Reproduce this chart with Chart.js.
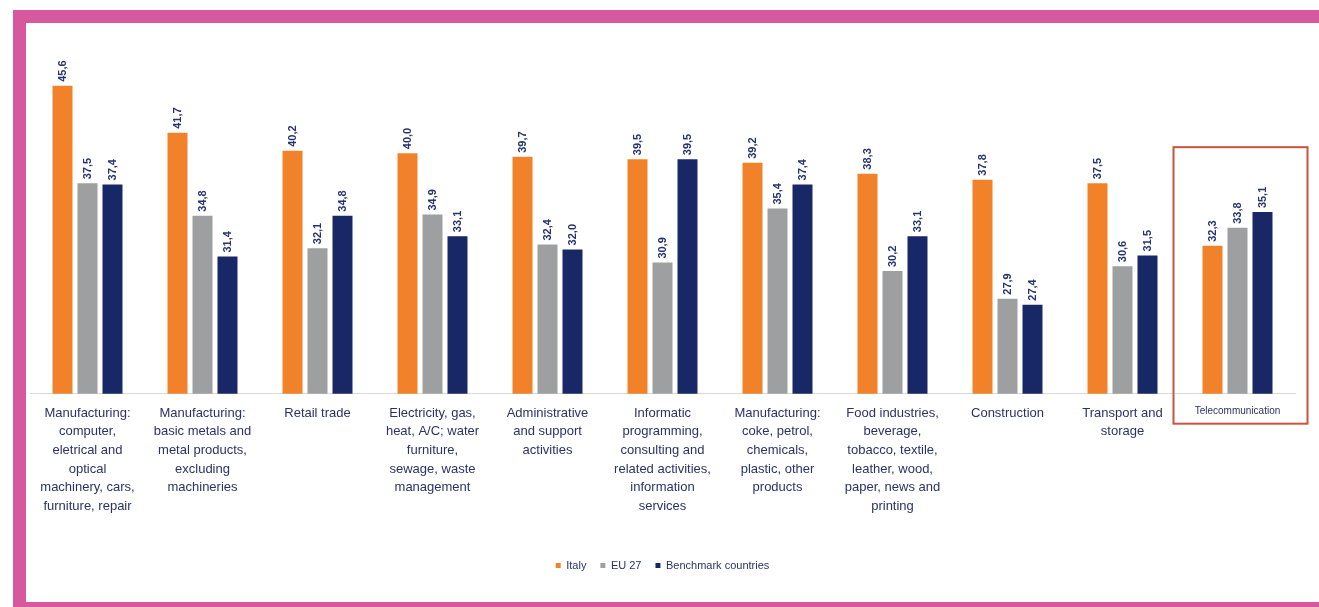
<!DOCTYPE html>
<html lang="en">
<head>
  <meta charset="UTF-8" />
  <title>Italy vs EU 27 vs Benchmark countries by sector</title>
  <script src="https://cdn.jsdelivr.net/npm/chart.js"></script>
  <style>
    html, body { margin: 0; padding: 0; background: #fff; overflow: hidden; }
    body { width: 1319px; height: 607px; position: relative; font-family: "Liberation Sans", Arial, sans-serif; }
    .frame {
      position: absolute; left: 13px; top: 10px; width: 1340px; height: 579px;
      border-top: 13px solid #d6589e; border-left: 13px solid #d6589e; border-bottom: 13px solid #d6589e;
      background: #fff;
    }
    #wrap { position: absolute; left: 26px; top: 23px; width: 1293px; height: 579px; }
  </style>
</head>
<body>
  <div class="frame"></div>
  <div id="wrap"><canvas id="sectorChart"></canvas></div>

  <script>
    // categories (multi-line labels)
    const categories = [
      ['Manufacturing:', 'computer,', 'eletrical and', 'optical', 'machinery, cars,', 'furniture, repair'],
      ['Manufacturing:', 'basic metals and', 'metal products,', 'excluding', 'machineries'],
      ['Retail trade'],
      ['Electricity, gas,', 'heat, A/C; water', 'furniture,', 'sewage, waste', 'management'],
      ['Administrative', 'and support', 'activities'],
      ['Informatic', 'programming,', 'consulting and', 'related activities,', 'information', 'services'],
      ['Manufacturing:', 'coke, petrol,', 'chemicals,', 'plastic, other', 'products'],
      ['Food industries,', 'beverage,', 'tobacco, textile,', 'leather, wood,', 'paper, news and', 'printing'],
      ['Construction'],
      ['Transport and', 'storage'],
      ['Telecommunication']
    ];

    const italy     = [45.6, 41.7, 40.2, 40.0, 39.7, 39.5, 39.2, 38.3, 37.8, 37.5, 32.3];
    const eu27      = [37.5, 34.8, 32.1, 34.9, 32.4, 30.9, 35.4, 30.2, 27.9, 30.6, 33.8];
    const benchmark = [37.4, 31.4, 34.8, 33.1, 32.0, 39.5, 37.4, 33.1, 27.4, 31.5, 35.1];

    const seriesNames = ['Italy', 'EU 27', 'Benchmark countries'];
    const highlightIndex = 10; // Telecommunication

    const TEXT = '#2a3268';
    const FONT = '"Liberation Sans", Arial, sans-serif';

    // rotated value labels above each bar
    const valueLabels = {
      id: 'valueLabels',
      afterDatasetsDraw(chart) {
        const c = chart.ctx;
        chart.data.datasets.forEach((ds, i) => {
          const meta = chart.getDatasetMeta(i);
          meta.data.forEach((bar, j) => {
            c.save();
            c.translate(bar.x, bar.y - 4);
            c.rotate(-Math.PI / 2);
            c.font = 'bold 11px ' + FONT;
            c.fillStyle = '#26336f';
            c.textAlign = 'left';
            c.textBaseline = 'middle';
            c.fillText(ds.data[j].toFixed(1).replace('.', ','), 0, 0);
            c.restore();
          });
        });
      }
    };

    // red box round the highlighted category
    const highlightBox = {
      id: 'highlightBox',
      afterDraw(chart) {
        const x = chart.scales.x, y = chart.scales.y;
        const cx = x.getPixelForValue(highlightIndex);
        const top = y.getPixelForValue(40.5);
        const bottom = y.getPixelForValue(y.min) + 30;
        const c = chart.ctx;
        c.save();
        c.strokeStyle = '#c9533d';
        c.lineWidth = 2;
        c.strokeRect(cx - 64, top, 134, bottom - top);
        c.restore();
      }
    };

    new Chart(document.getElementById('sectorChart'), {
      type: 'bar',
      data: {
        labels: categories,
        datasets: [
          { label: seriesNames[0], data: italy, backgroundColor: '#f2822a' },
          { label: seriesNames[1], data: eu27, backgroundColor: '#9e9fa0' },
          { label: seriesNames[2], data: benchmark, backgroundColor: '#182766' }
        ]
      },
      options: {
        responsive: true,
        maintainAspectRatio: false,
        animation: false,
        categoryPercentage: 0.652,
        barPercentage: 0.8,
        layout: { padding: { left: 4, right: 24, top: 34, bottom: 21 } },
        scales: {
          x: {
            grid: { display: false, drawTicks: false },
            border: { display: true, color: '#d9d9d9', width: 1 },
            afterFit: scale => { scale.height += 20; },
            ticks: {
              color: TEXT,
              padding: 10,
              maxRotation: 0,
              autoSkip: false,
              font: ctx => ({
                family: FONT,
                size: ctx.index === highlightIndex ? 10 : 13,
                lineHeight: ctx.index === highlightIndex ? 1.6 : 1.44
              })
            }
          },
          y: {
            display: false,
            min: 20,
            max: 48
          }
        },
        plugins: {
          legend: {
            position: 'bottom',
            labels: {
              boxWidth: 5,
              boxHeight: 5,
              padding: 14,
              color: TEXT,
              font: { family: FONT, size: 11 }
            }
          },
          tooltip: { enabled: false }
        }
      },
      plugins: [valueLabels, highlightBox]
    });
  </script>
</body>
</html>
